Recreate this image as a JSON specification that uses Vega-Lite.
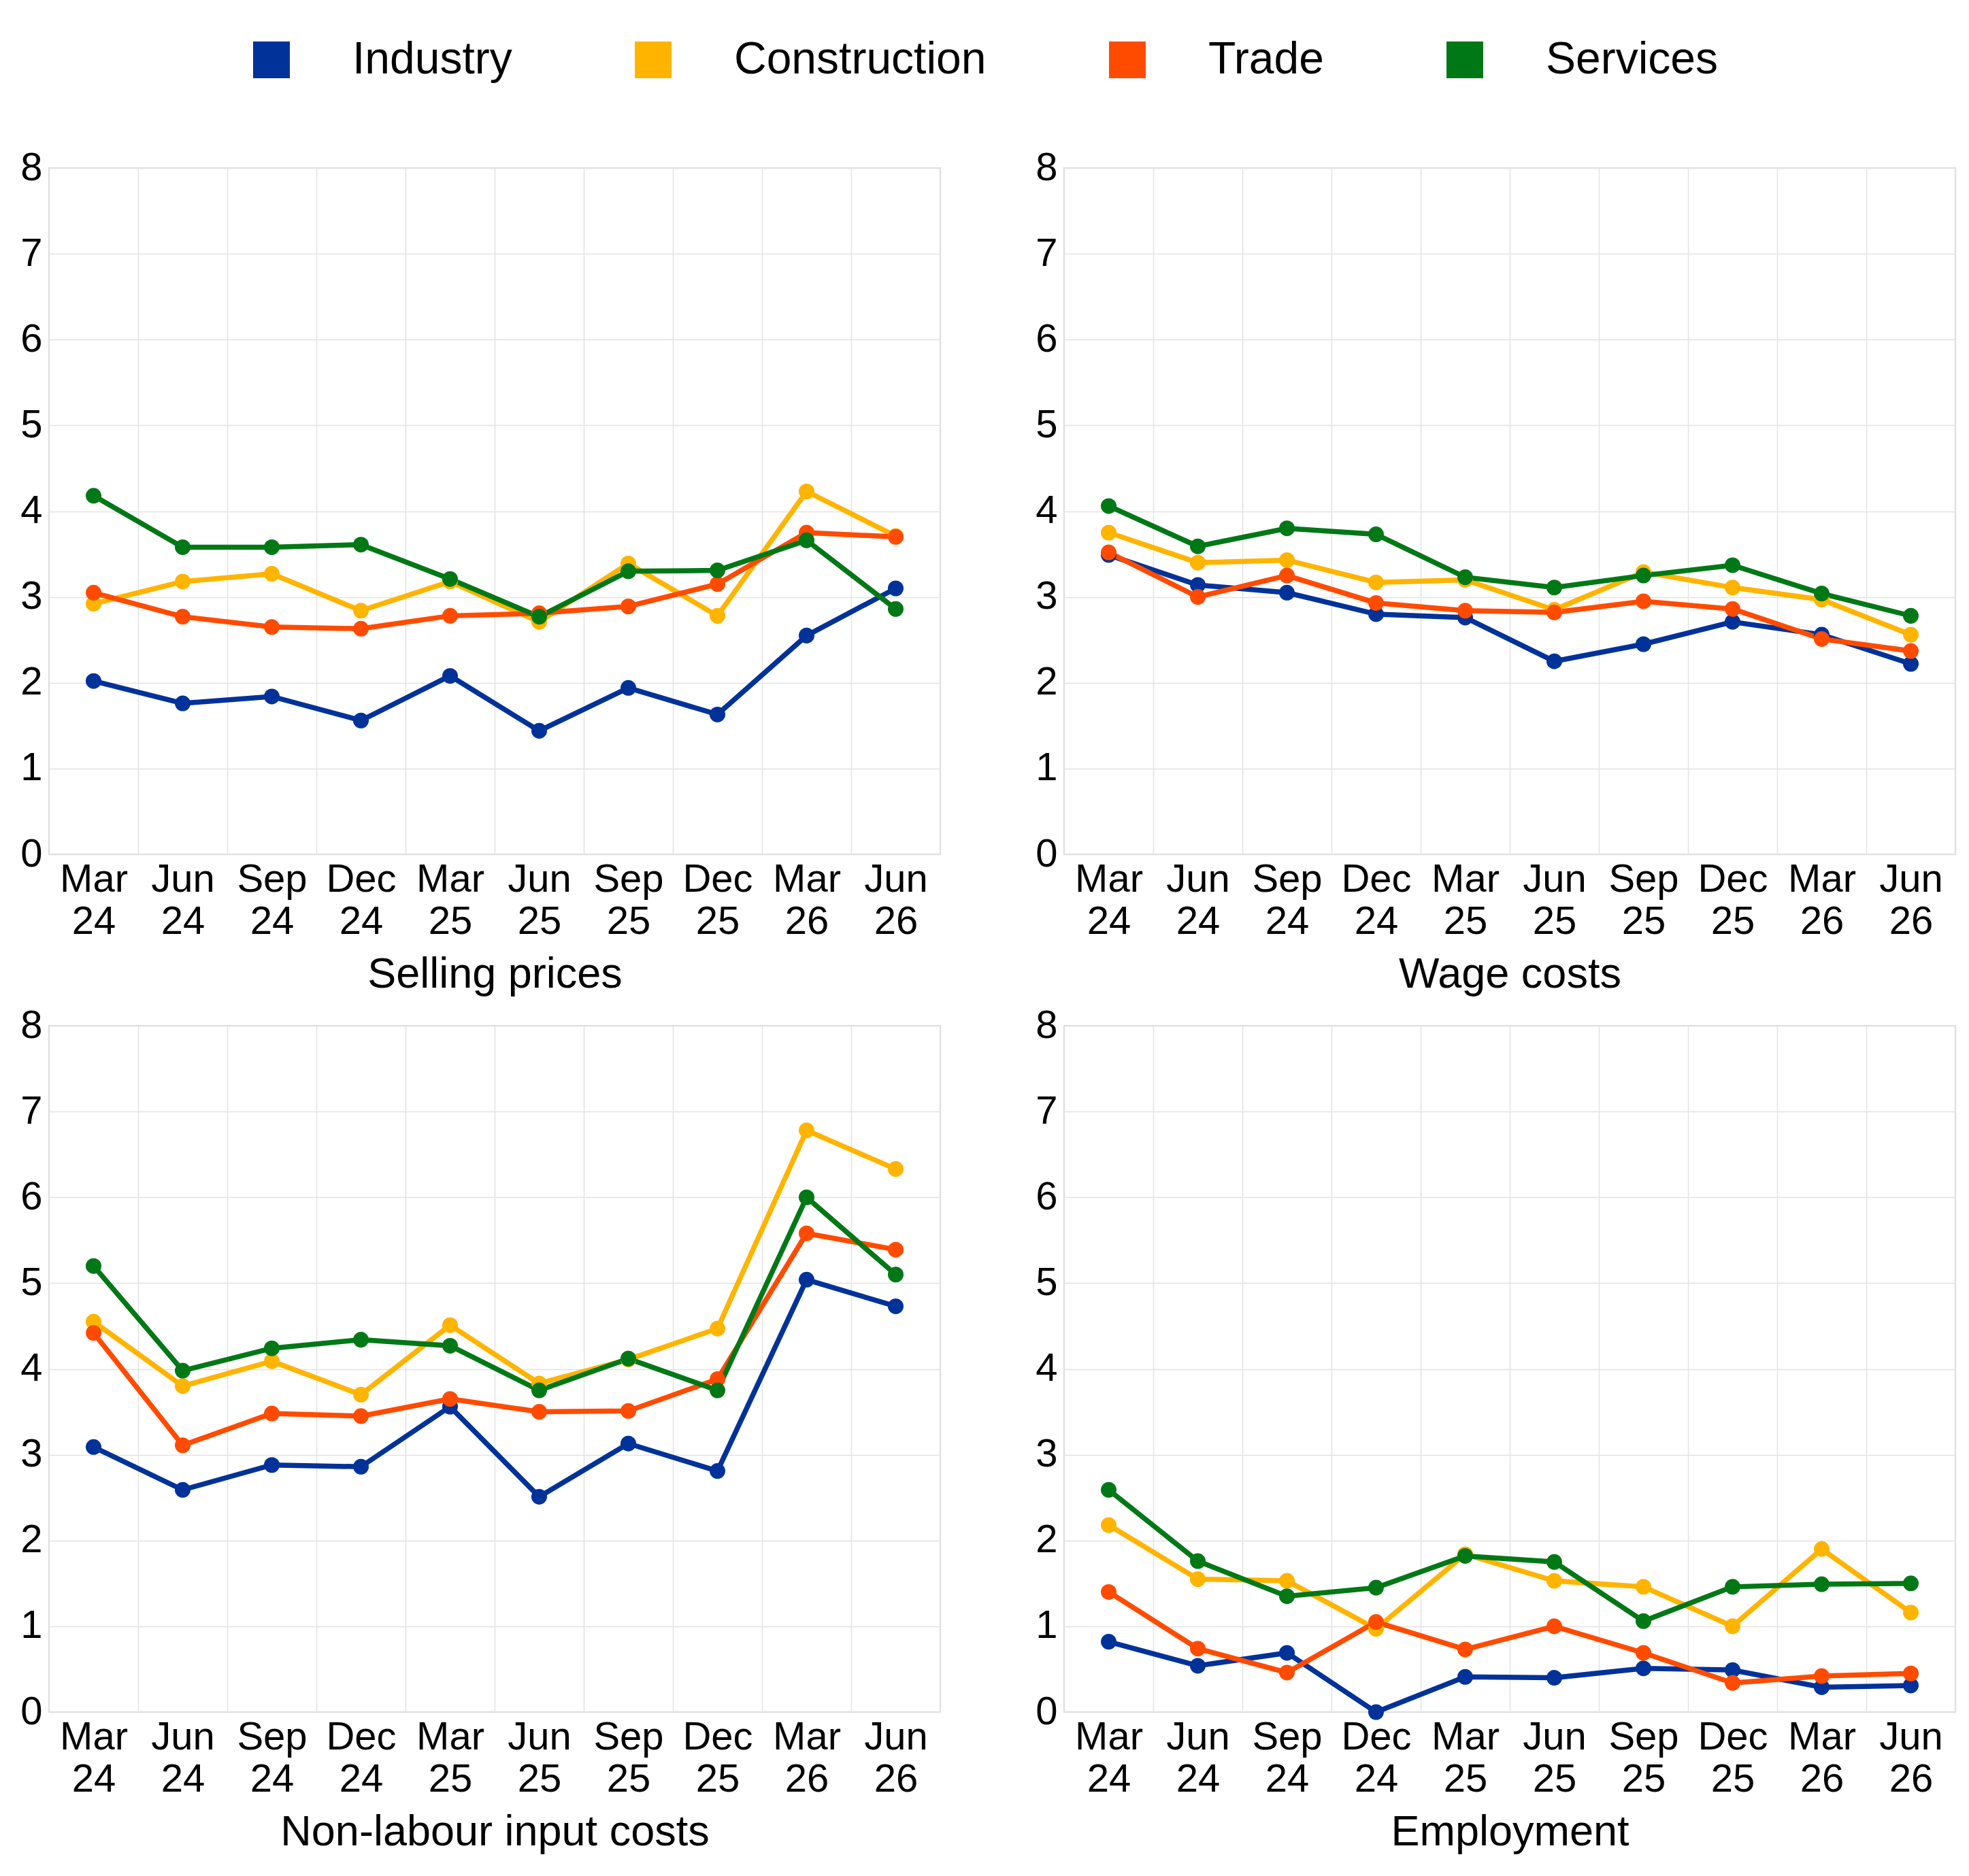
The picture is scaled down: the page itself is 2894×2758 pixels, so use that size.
{
  "$schema": "https://vega.github.io/schema/vega-lite/v6.json",
  "autosize": {"type": "pad"},
  "padding": {"left": 28, "top": 55, "right": 20, "bottom": 20},
  "background": "#ffffff",
  "data": {"values": [
    {"panel":"Selling prices","sector":"Industry","date":"Mar 24","value":2.02},
    {"panel":"Selling prices","sector":"Industry","date":"Jun 24","value":1.76},
    {"panel":"Selling prices","sector":"Industry","date":"Sep 24","value":1.84},
    {"panel":"Selling prices","sector":"Industry","date":"Dec 24","value":1.56},
    {"panel":"Selling prices","sector":"Industry","date":"Mar 25","value":2.08},
    {"panel":"Selling prices","sector":"Industry","date":"Jun 25","value":1.44},
    {"panel":"Selling prices","sector":"Industry","date":"Sep 25","value":1.94},
    {"panel":"Selling prices","sector":"Industry","date":"Dec 25","value":1.63},
    {"panel":"Selling prices","sector":"Industry","date":"Mar 26","value":2.55},
    {"panel":"Selling prices","sector":"Industry","date":"Jun 26","value":3.10},
    {"panel":"Selling prices","sector":"Construction","date":"Mar 24","value":2.92},
    {"panel":"Selling prices","sector":"Construction","date":"Jun 24","value":3.18},
    {"panel":"Selling prices","sector":"Construction","date":"Sep 24","value":3.27},
    {"panel":"Selling prices","sector":"Construction","date":"Dec 24","value":2.84},
    {"panel":"Selling prices","sector":"Construction","date":"Mar 25","value":3.18},
    {"panel":"Selling prices","sector":"Construction","date":"Jun 25","value":2.71},
    {"panel":"Selling prices","sector":"Construction","date":"Sep 25","value":3.39},
    {"panel":"Selling prices","sector":"Construction","date":"Dec 25","value":2.78},
    {"panel":"Selling prices","sector":"Construction","date":"Mar 26","value":4.23},
    {"panel":"Selling prices","sector":"Construction","date":"Jun 26","value":3.71},
    {"panel":"Selling prices","sector":"Trade","date":"Mar 24","value":3.05},
    {"panel":"Selling prices","sector":"Trade","date":"Jun 24","value":2.77},
    {"panel":"Selling prices","sector":"Trade","date":"Sep 24","value":2.65},
    {"panel":"Selling prices","sector":"Trade","date":"Dec 24","value":2.63},
    {"panel":"Selling prices","sector":"Trade","date":"Mar 25","value":2.78},
    {"panel":"Selling prices","sector":"Trade","date":"Jun 25","value":2.81},
    {"panel":"Selling prices","sector":"Trade","date":"Sep 25","value":2.89},
    {"panel":"Selling prices","sector":"Trade","date":"Dec 25","value":3.15},
    {"panel":"Selling prices","sector":"Trade","date":"Mar 26","value":3.75},
    {"panel":"Selling prices","sector":"Trade","date":"Jun 26","value":3.70},
    {"panel":"Selling prices","sector":"Services","date":"Mar 24","value":4.18},
    {"panel":"Selling prices","sector":"Services","date":"Jun 24","value":3.58},
    {"panel":"Selling prices","sector":"Services","date":"Sep 24","value":3.58},
    {"panel":"Selling prices","sector":"Services","date":"Dec 24","value":3.61},
    {"panel":"Selling prices","sector":"Services","date":"Mar 25","value":3.21},
    {"panel":"Selling prices","sector":"Services","date":"Jun 25","value":2.77},
    {"panel":"Selling prices","sector":"Services","date":"Sep 25","value":3.30},
    {"panel":"Selling prices","sector":"Services","date":"Dec 25","value":3.31},
    {"panel":"Selling prices","sector":"Services","date":"Mar 26","value":3.66},
    {"panel":"Selling prices","sector":"Services","date":"Jun 26","value":2.86},

    {"panel":"Wage costs","sector":"Industry","date":"Mar 24","value":3.49},
    {"panel":"Wage costs","sector":"Industry","date":"Jun 24","value":3.14},
    {"panel":"Wage costs","sector":"Industry","date":"Sep 24","value":3.05},
    {"panel":"Wage costs","sector":"Industry","date":"Dec 24","value":2.80},
    {"panel":"Wage costs","sector":"Industry","date":"Mar 25","value":2.76},
    {"panel":"Wage costs","sector":"Industry","date":"Jun 25","value":2.25},
    {"panel":"Wage costs","sector":"Industry","date":"Sep 25","value":2.45},
    {"panel":"Wage costs","sector":"Industry","date":"Dec 25","value":2.71},
    {"panel":"Wage costs","sector":"Industry","date":"Mar 26","value":2.56},
    {"panel":"Wage costs","sector":"Industry","date":"Jun 26","value":2.22},
    {"panel":"Wage costs","sector":"Construction","date":"Mar 24","value":3.75},
    {"panel":"Wage costs","sector":"Construction","date":"Jun 24","value":3.40},
    {"panel":"Wage costs","sector":"Construction","date":"Sep 24","value":3.43},
    {"panel":"Wage costs","sector":"Construction","date":"Dec 24","value":3.17},
    {"panel":"Wage costs","sector":"Construction","date":"Mar 25","value":3.20},
    {"panel":"Wage costs","sector":"Construction","date":"Jun 25","value":2.85},
    {"panel":"Wage costs","sector":"Construction","date":"Sep 25","value":3.29},
    {"panel":"Wage costs","sector":"Construction","date":"Dec 25","value":3.11},
    {"panel":"Wage costs","sector":"Construction","date":"Mar 26","value":2.97},
    {"panel":"Wage costs","sector":"Construction","date":"Jun 26","value":2.56},
    {"panel":"Wage costs","sector":"Trade","date":"Mar 24","value":3.52},
    {"panel":"Wage costs","sector":"Trade","date":"Jun 24","value":3.00},
    {"panel":"Wage costs","sector":"Trade","date":"Sep 24","value":3.25},
    {"panel":"Wage costs","sector":"Trade","date":"Dec 24","value":2.93},
    {"panel":"Wage costs","sector":"Trade","date":"Mar 25","value":2.84},
    {"panel":"Wage costs","sector":"Trade","date":"Jun 25","value":2.82},
    {"panel":"Wage costs","sector":"Trade","date":"Sep 25","value":2.95},
    {"panel":"Wage costs","sector":"Trade","date":"Dec 25","value":2.86},
    {"panel":"Wage costs","sector":"Trade","date":"Mar 26","value":2.51},
    {"panel":"Wage costs","sector":"Trade","date":"Jun 26","value":2.37},
    {"panel":"Wage costs","sector":"Services","date":"Mar 24","value":4.06},
    {"panel":"Wage costs","sector":"Services","date":"Jun 24","value":3.59},
    {"panel":"Wage costs","sector":"Services","date":"Sep 24","value":3.80},
    {"panel":"Wage costs","sector":"Services","date":"Dec 24","value":3.73},
    {"panel":"Wage costs","sector":"Services","date":"Mar 25","value":3.23},
    {"panel":"Wage costs","sector":"Services","date":"Jun 25","value":3.11},
    {"panel":"Wage costs","sector":"Services","date":"Sep 25","value":3.25},
    {"panel":"Wage costs","sector":"Services","date":"Dec 25","value":3.37},
    {"panel":"Wage costs","sector":"Services","date":"Mar 26","value":3.04},
    {"panel":"Wage costs","sector":"Services","date":"Jun 26","value":2.78},

    {"panel":"Non-labour input costs","sector":"Industry","date":"Mar 24","value":3.09},
    {"panel":"Non-labour input costs","sector":"Industry","date":"Jun 24","value":2.59},
    {"panel":"Non-labour input costs","sector":"Industry","date":"Sep 24","value":2.88},
    {"panel":"Non-labour input costs","sector":"Industry","date":"Dec 24","value":2.86},
    {"panel":"Non-labour input costs","sector":"Industry","date":"Mar 25","value":3.56},
    {"panel":"Non-labour input costs","sector":"Industry","date":"Jun 25","value":2.51},
    {"panel":"Non-labour input costs","sector":"Industry","date":"Sep 25","value":3.13},
    {"panel":"Non-labour input costs","sector":"Industry","date":"Dec 25","value":2.81},
    {"panel":"Non-labour input costs","sector":"Industry","date":"Mar 26","value":5.04},
    {"panel":"Non-labour input costs","sector":"Industry","date":"Jun 26","value":4.73},
    {"panel":"Non-labour input costs","sector":"Construction","date":"Mar 24","value":4.55},
    {"panel":"Non-labour input costs","sector":"Construction","date":"Jun 24","value":3.80},
    {"panel":"Non-labour input costs","sector":"Construction","date":"Sep 24","value":4.09},
    {"panel":"Non-labour input costs","sector":"Construction","date":"Dec 24","value":3.70},
    {"panel":"Non-labour input costs","sector":"Construction","date":"Mar 25","value":4.51},
    {"panel":"Non-labour input costs","sector":"Construction","date":"Jun 25","value":3.83},
    {"panel":"Non-labour input costs","sector":"Construction","date":"Sep 25","value":4.11},
    {"panel":"Non-labour input costs","sector":"Construction","date":"Dec 25","value":4.47},
    {"panel":"Non-labour input costs","sector":"Construction","date":"Mar 26","value":6.78},
    {"panel":"Non-labour input costs","sector":"Construction","date":"Jun 26","value":6.33},
    {"panel":"Non-labour input costs","sector":"Trade","date":"Mar 24","value":4.42},
    {"panel":"Non-labour input costs","sector":"Trade","date":"Jun 24","value":3.11},
    {"panel":"Non-labour input costs","sector":"Trade","date":"Sep 24","value":3.48},
    {"panel":"Non-labour input costs","sector":"Trade","date":"Dec 24","value":3.45},
    {"panel":"Non-labour input costs","sector":"Trade","date":"Mar 25","value":3.65},
    {"panel":"Non-labour input costs","sector":"Trade","date":"Jun 25","value":3.50},
    {"panel":"Non-labour input costs","sector":"Trade","date":"Sep 25","value":3.51},
    {"panel":"Non-labour input costs","sector":"Trade","date":"Dec 25","value":3.88},
    {"panel":"Non-labour input costs","sector":"Trade","date":"Mar 26","value":5.58},
    {"panel":"Non-labour input costs","sector":"Trade","date":"Jun 26","value":5.39},
    {"panel":"Non-labour input costs","sector":"Services","date":"Mar 24","value":5.20},
    {"panel":"Non-labour input costs","sector":"Services","date":"Jun 24","value":3.98},
    {"panel":"Non-labour input costs","sector":"Services","date":"Sep 24","value":4.24},
    {"panel":"Non-labour input costs","sector":"Services","date":"Dec 24","value":4.34},
    {"panel":"Non-labour input costs","sector":"Services","date":"Mar 25","value":4.27},
    {"panel":"Non-labour input costs","sector":"Services","date":"Jun 25","value":3.75},
    {"panel":"Non-labour input costs","sector":"Services","date":"Sep 25","value":4.12},
    {"panel":"Non-labour input costs","sector":"Services","date":"Dec 25","value":3.75},
    {"panel":"Non-labour input costs","sector":"Services","date":"Mar 26","value":6.00},
    {"panel":"Non-labour input costs","sector":"Services","date":"Jun 26","value":5.10},

    {"panel":"Employment","sector":"Industry","date":"Mar 24","value":0.82},
    {"panel":"Employment","sector":"Industry","date":"Jun 24","value":0.54},
    {"panel":"Employment","sector":"Industry","date":"Sep 24","value":0.69},
    {"panel":"Employment","sector":"Industry","date":"Dec 24","value":0.00},
    {"panel":"Employment","sector":"Industry","date":"Mar 25","value":0.41},
    {"panel":"Employment","sector":"Industry","date":"Jun 25","value":0.40},
    {"panel":"Employment","sector":"Industry","date":"Sep 25","value":0.51},
    {"panel":"Employment","sector":"Industry","date":"Dec 25","value":0.49},
    {"panel":"Employment","sector":"Industry","date":"Mar 26","value":0.29},
    {"panel":"Employment","sector":"Industry","date":"Jun 26","value":0.31},
    {"panel":"Employment","sector":"Construction","date":"Mar 24","value":2.18},
    {"panel":"Employment","sector":"Construction","date":"Jun 24","value":1.55},
    {"panel":"Employment","sector":"Construction","date":"Sep 24","value":1.53},
    {"panel":"Employment","sector":"Construction","date":"Dec 24","value":0.97},
    {"panel":"Employment","sector":"Construction","date":"Mar 25","value":1.84},
    {"panel":"Employment","sector":"Construction","date":"Jun 25","value":1.53},
    {"panel":"Employment","sector":"Construction","date":"Sep 25","value":1.46},
    {"panel":"Employment","sector":"Construction","date":"Dec 25","value":1.00},
    {"panel":"Employment","sector":"Construction","date":"Mar 26","value":1.90},
    {"panel":"Employment","sector":"Construction","date":"Jun 26","value":1.16},
    {"panel":"Employment","sector":"Trade","date":"Mar 24","value":1.40},
    {"panel":"Employment","sector":"Trade","date":"Jun 24","value":0.74},
    {"panel":"Employment","sector":"Trade","date":"Sep 24","value":0.46},
    {"panel":"Employment","sector":"Trade","date":"Dec 24","value":1.05},
    {"panel":"Employment","sector":"Trade","date":"Mar 25","value":0.73},
    {"panel":"Employment","sector":"Trade","date":"Jun 25","value":1.00},
    {"panel":"Employment","sector":"Trade","date":"Sep 25","value":0.69},
    {"panel":"Employment","sector":"Trade","date":"Dec 25","value":0.34},
    {"panel":"Employment","sector":"Trade","date":"Mar 26","value":0.42},
    {"panel":"Employment","sector":"Trade","date":"Jun 26","value":0.45},
    {"panel":"Employment","sector":"Services","date":"Mar 24","value":2.59},
    {"panel":"Employment","sector":"Services","date":"Jun 24","value":1.76},
    {"panel":"Employment","sector":"Services","date":"Sep 24","value":1.35},
    {"panel":"Employment","sector":"Services","date":"Dec 24","value":1.45},
    {"panel":"Employment","sector":"Services","date":"Mar 25","value":1.82},
    {"panel":"Employment","sector":"Services","date":"Jun 25","value":1.75},
    {"panel":"Employment","sector":"Services","date":"Sep 25","value":1.06},
    {"panel":"Employment","sector":"Services","date":"Dec 25","value":1.46},
    {"panel":"Employment","sector":"Services","date":"Mar 26","value":1.49},
    {"panel":"Employment","sector":"Services","date":"Jun 26","value":1.50}
  ]},
  "columns": 2,
  "spacing": {"row": 252, "column": 182},
  "bounds": "flush",
  "concat": [
    {
      "width": 1310, "height": 1009,
      "transform": [{"filter": "datum.panel === 'Selling prices'"}],
      "encoding": {
        "x": {"field": "date", "type": "ordinal", "sort": ["Mar 24","Jun 24","Sep 24","Dec 24","Mar 25","Jun 25","Sep 25","Dec 25","Mar 26","Jun 26"], "scale": {"type": "band", "paddingInner": 0, "paddingOuter": 0}, "axis": {"title": "Selling prices", "labelExpr": "split(datum.label, ' ')"}},
        "y": {"field": "value", "type": "quantitative", "scale": {"domain": [0, 8], "nice": false}, "axis": {"title": null, "values": [0,1,2,3,4,5,6,7,8]}},
        "color": {"field": "sector", "type": "nominal", "scale": {"domain": ["Industry","Construction","Trade","Services"], "range": ["#003299","#FFB400","#FF4B00","#007816"]}, "legend": {"title": null, "orient": "none", "legendX": 294, "legendY": -192, "direction": "horizontal", "encode": {"symbols": {"update": {"fill": {"scale": "color", "field": "value"}, "stroke": {"value": "transparent"}, "opacity": {"value": 1}}}}}}
      },
      "layer": [
        {"mark": {"type": "line", "strokeWidth": 7.5}},
        {"mark": {"type": "point", "filled": true, "size": 530, "opacity": 1}}
      ]
    },
    {
      "width": 1310, "height": 1009,
      "transform": [{"filter": "datum.panel === 'Wage costs'"}],
      "encoding": {
        "x": {"field": "date", "type": "ordinal", "sort": ["Mar 24","Jun 24","Sep 24","Dec 24","Mar 25","Jun 25","Sep 25","Dec 25","Mar 26","Jun 26"], "scale": {"type": "band", "paddingInner": 0, "paddingOuter": 0}, "axis": {"title": "Wage costs", "labelExpr": "split(datum.label, ' ')"}},
        "y": {"field": "value", "type": "quantitative", "scale": {"domain": [0, 8], "nice": false}, "axis": {"title": null, "values": [0,1,2,3,4,5,6,7,8]}},
        "color": {"field": "sector", "type": "nominal", "scale": {"domain": ["Industry","Construction","Trade","Services"], "range": ["#003299","#FFB400","#FF4B00","#007816"]}, "legend": {"title": null, "orient": "none", "legendX": 294, "legendY": -192, "direction": "horizontal", "encode": {"symbols": {"update": {"fill": {"scale": "color", "field": "value"}, "stroke": {"value": "transparent"}, "opacity": {"value": 1}}}}}}
      },
      "layer": [
        {"mark": {"type": "line", "strokeWidth": 7.5}},
        {"mark": {"type": "point", "filled": true, "size": 530, "opacity": 1}}
      ]
    },
    {
      "width": 1310, "height": 1009,
      "transform": [{"filter": "datum.panel === 'Non-labour input costs'"}],
      "encoding": {
        "x": {"field": "date", "type": "ordinal", "sort": ["Mar 24","Jun 24","Sep 24","Dec 24","Mar 25","Jun 25","Sep 25","Dec 25","Mar 26","Jun 26"], "scale": {"type": "band", "paddingInner": 0, "paddingOuter": 0}, "axis": {"title": "Non-labour input costs", "labelExpr": "split(datum.label, ' ')"}},
        "y": {"field": "value", "type": "quantitative", "scale": {"domain": [0, 8], "nice": false}, "axis": {"title": null, "values": [0,1,2,3,4,5,6,7,8]}},
        "color": {"field": "sector", "type": "nominal", "scale": {"domain": ["Industry","Construction","Trade","Services"], "range": ["#003299","#FFB400","#FF4B00","#007816"]}, "legend": {"title": null, "orient": "none", "legendX": 294, "legendY": -192, "direction": "horizontal", "encode": {"symbols": {"update": {"fill": {"scale": "color", "field": "value"}, "stroke": {"value": "transparent"}, "opacity": {"value": 1}}}}}}
      },
      "layer": [
        {"mark": {"type": "line", "strokeWidth": 7.5}},
        {"mark": {"type": "point", "filled": true, "size": 530, "opacity": 1}}
      ]
    },
    {
      "width": 1310, "height": 1009,
      "transform": [{"filter": "datum.panel === 'Employment'"}],
      "encoding": {
        "x": {"field": "date", "type": "ordinal", "sort": ["Mar 24","Jun 24","Sep 24","Dec 24","Mar 25","Jun 25","Sep 25","Dec 25","Mar 26","Jun 26"], "scale": {"type": "band", "paddingInner": 0, "paddingOuter": 0}, "axis": {"title": "Employment", "labelExpr": "split(datum.label, ' ')"}},
        "y": {"field": "value", "type": "quantitative", "scale": {"domain": [0, 8], "nice": false}, "axis": {"title": null, "values": [0,1,2,3,4,5,6,7,8]}},
        "color": {"field": "sector", "type": "nominal", "scale": {"domain": ["Industry","Construction","Trade","Services"], "range": ["#003299","#FFB400","#FF4B00","#007816"]}, "legend": {"title": null, "orient": "none", "legendX": 294, "legendY": -192, "direction": "horizontal", "encode": {"symbols": {"update": {"fill": {"scale": "color", "field": "value"}, "stroke": {"value": "transparent"}, "opacity": {"value": 1}}}}}}
      },
      "layer": [
        {"mark": {"type": "line", "strokeWidth": 7.5}},
        {"mark": {"type": "point", "filled": true, "size": 530, "opacity": 1}}
      ]
    }
  ],
  "config": {
    "font": "Liberation Sans",
    "view": {"stroke": "#d9d9d9", "strokeWidth": 2},
    "axis": {
      "domain": false, "ticks": false, "grid": true,
      "gridColor": "#e3e3e3", "gridWidth": 1.5,
      "labelFont": "Liberation Sans", "labelFontSize": 58, "labelColor": "#000000",
      "titleFont": "Liberation Sans", "titleFontSize": 63, "titleFontWeight": "normal", "titleColor": "#000000"
    },
    "axisX": {"labelAngle": 0, "labelPadding": 8, "labelLineHeight": 62, "tickBand": "extent", "titlePadding": 17, "labelOverlap": false},
    "axisY": {"labelPadding": 10},
    "legend": {
      "symbolType": "square", "symbolSize": 2916, "symbolStrokeWidth": 0,
      "labelFont": "Liberation Sans", "labelFontSize": 66, "labelColor": "#000000",
      "labelOffset": 86, "columnPadding": 174, "labelLimit": 1000
    }
  }
}
